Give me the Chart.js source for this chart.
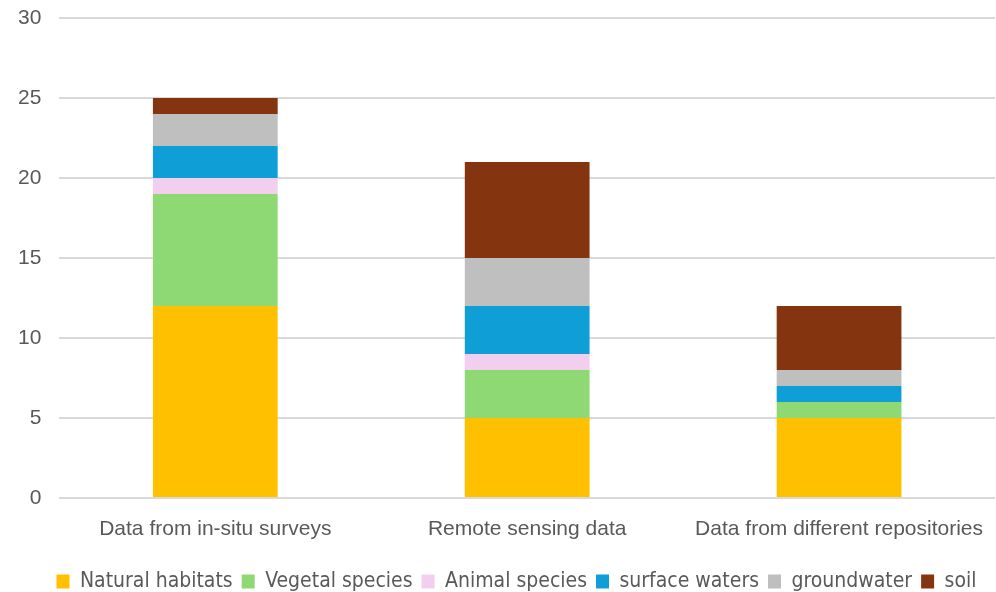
<!DOCTYPE html>
<html>
<head>
<meta charset="utf-8">
<script src="https://cdn.jsdelivr.net/npm/chart.js@4/dist/chart.umd.min.js"></script>
<style>
  html, body { margin: 0; padding: 0; background: #fff; }
  #wrap { width: 996px; height: 592px; }
</style>
</head>
<body>
<div id="wrap"><canvas id="myChart" width="996" height="592"></canvas></div>
<script>
// categories and series
var categories = ["Data from in-situ surveys", "Remote sensing data", "Data from different repositories"];
var naturalHabitats = [12, 5, 5];
var vegetalSpecies = [7, 3, 1];
var animalSpecies = [1, 1, 0];
var surfaceWaters = [2, 3, 1];
var groundwater = [2, 3, 1];
var soil = [1, 6, 4];

var seriesNames = ["Natural habitats", "Vegetal species", "Animal species", "surface waters", "groundwater", "soil"];
var seriesValues = [naturalHabitats, vegetalSpecies, animalSpecies, surfaceWaters, groundwater, soil];
var seriesColors = ["#FFC000", "#8ED973", "#F2CEEF", "#0F9ED5", "#BFBFBF", "#84340F"];

var datasets = [];
for (var i = 0; i < seriesNames.length; i++) {
    datasets.push({
        label: seriesNames[i],
        data: seriesValues[i],
        backgroundColor: seriesColors[i],
        borderWidth: 0,
        barPercentage: 0.5,
        categoryPercentage: 0.8
    });
}

// legend in the original is centred a bit right of the canvas centre
var shiftLegend = {
    id: "shiftLegend",
    afterLayout: function(chart) {
        chart.legend.left += 19;
        chart.legend.right += 19;
    }
};

var ctx = document.getElementById("myChart");
new Chart(ctx, {
    type: "bar",
    data: { labels: categories, datasets: datasets },
    plugins: [shiftLegend],
    options: {
        responsive: false,
        animation: false,
        // small negative bottom padding so the legend sits low like the original
        layout: { padding: { top: 0, right: 1, left: 0, bottom: -10 } },
        scales: {
            x: {
                stacked: true,
                grid: { display: false },
                border: { display: false },
                ticks: { color: "#595959", font: { family: "Liberation Sans", size: 21 }, padding: 11 },
                afterFit: function(scale) {
                    scale.height = 64;
                }
            },
            y: {
                stacked: true,
                min: 0,
                max: 30,
                ticks: { stepSize: 5, color: "#595959", font: { family: "Liberation Sans", size: 21 }, padding: 18 },
                grid: { color: "#d9d9d9", lineWidth: 2, drawTicks: false },
                border: { display: false },
                afterFit: function(scale) {
                    // the tick padding otherwise pushes the top line down
                    scale.paddingTop = 18;
                }
            }
        },
        plugins: {
            legend: {
                position: "bottom",
                labels: {
                    boxWidth: 13,
                    boxHeight: 14,
                    padding: 9,
                    color: "#595959",
                    font: { family: "'DejaVu Sans Condensed', 'Liberation Sans'", size: 21 }
                }
            },
            tooltip: { enabled: false }
        }
    }
});
</script>
</body>
</html>
